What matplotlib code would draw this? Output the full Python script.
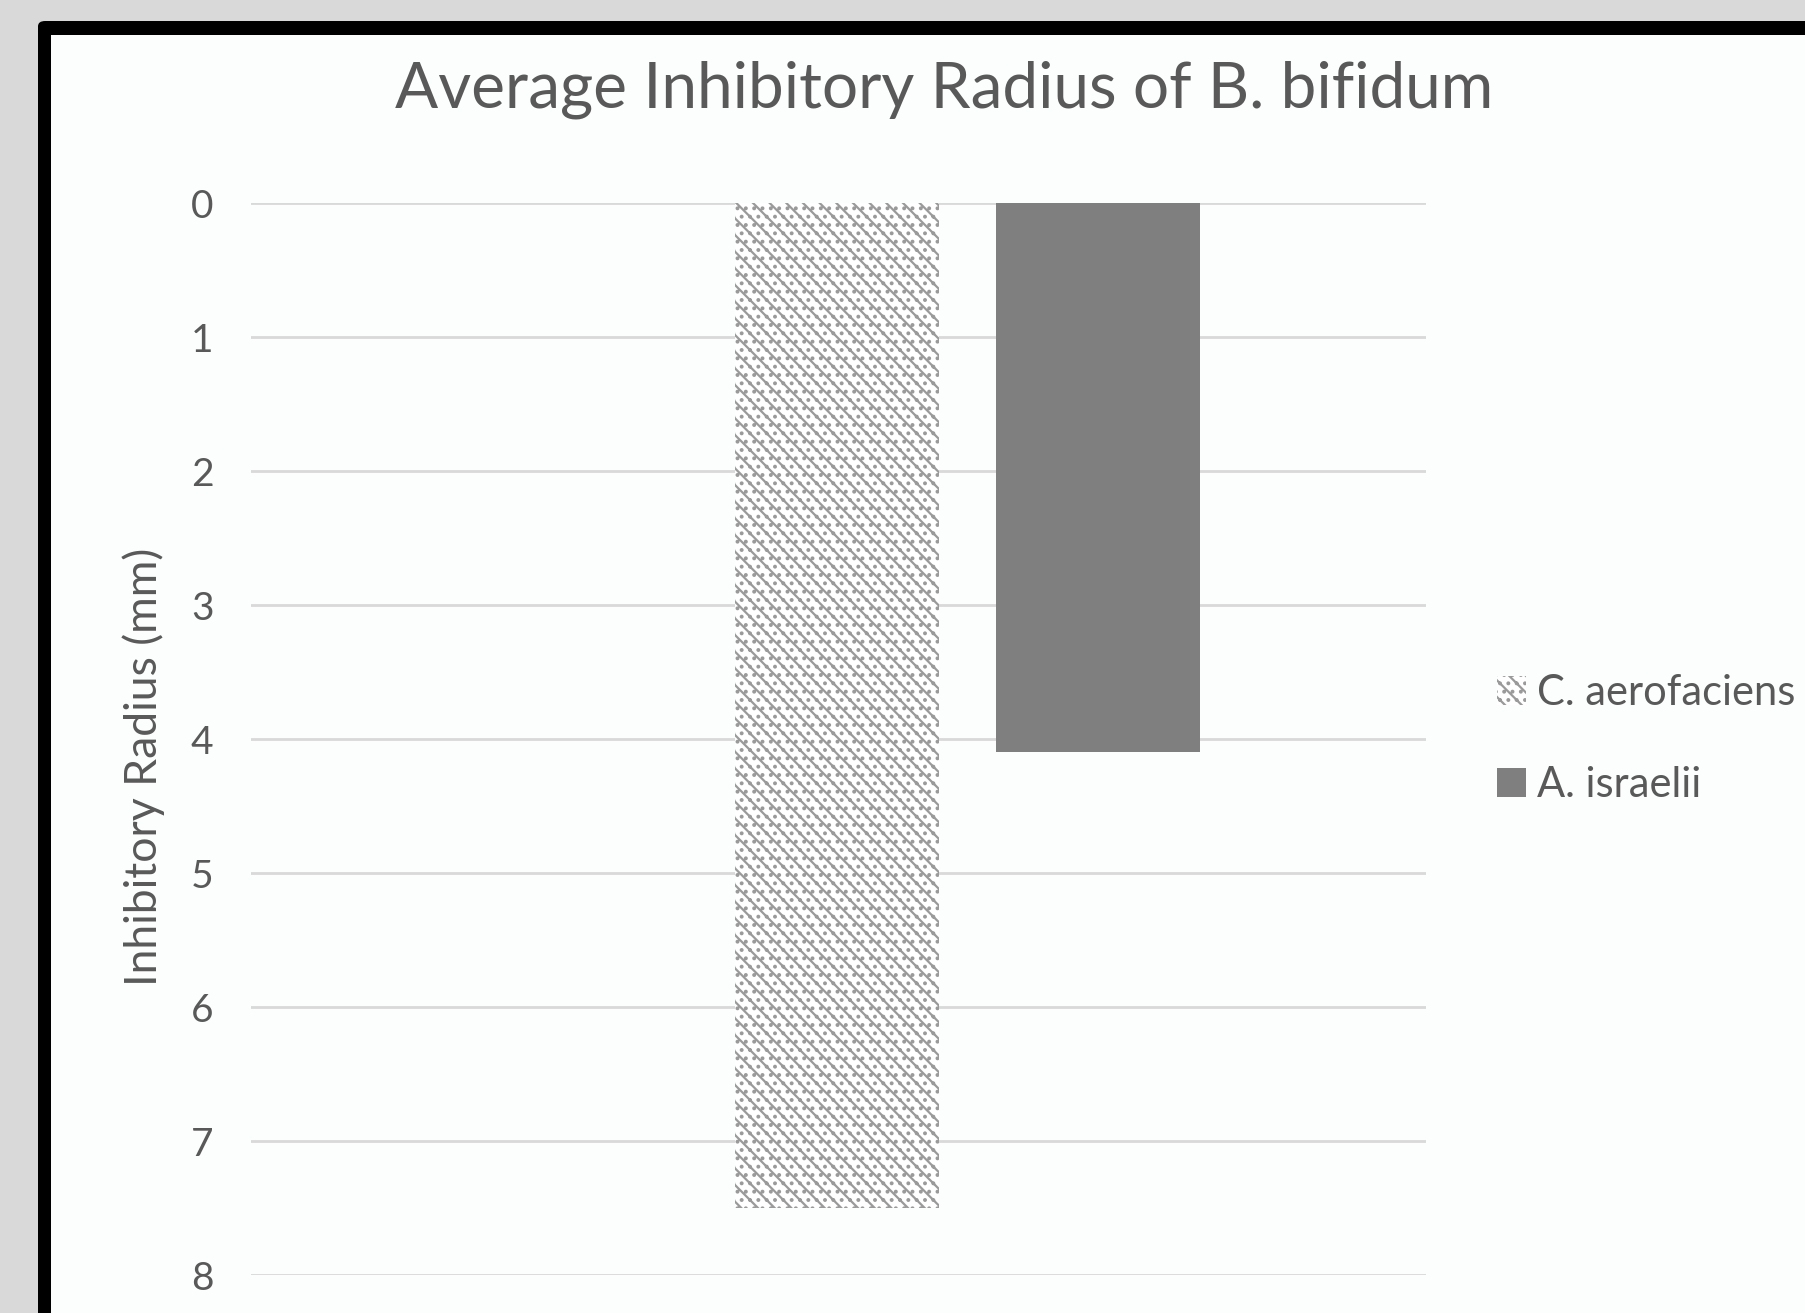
import matplotlib
matplotlib.use("Agg")
import matplotlib.pyplot as plt
from matplotlib.patches import Rectangle, FancyBboxPatch

# Data
series = ["C. aerofaciens", "A. israelii"]
radius_mm = [7.5, 4.1]
y_ticks = [0, 1, 2, 3, 4, 5, 6, 7, 8]

plt.rcParams["font.family"] = ["Lato", "DejaVu Sans"]
plt.rcParams["hatch.linewidth"] = 1.6

W, H = 1806, 1313
fig = plt.figure(figsize=(W / 100, H / 100), dpi=100, facecolor="#d9d9d9")

# Black frame with white panel inside
fig.patches.append(FancyBboxPatch((38 / W, -0.2), 1.3, 1 - 21 / H + 0.2,
                                  boxstyle="round,pad=0,rounding_size=0.004",
                                  transform=fig.transFigure, facecolor="black",
                                  edgecolor="none", zorder=-2))
fig.patches.append(Rectangle((51 / W, -0.2), 1.3, 1 - 35 / H + 0.2,
                             transform=fig.transFigure, facecolor="#fcfdfd",
                             edgecolor="none", zorder=-1))

ax = fig.add_axes([251 / W, 1 - 1275 / H, (1426 - 251) / W, (1275 - 203) / H])
ax.set_facecolor("none")
ax.set_zorder(2)

x = [1, 2]
width = 0.78
ax.bar(x[0], radius_mm[0], width=width, facecolor="white", edgecolor="#9a9a9a",
       hatch="\\\\..", linewidth=0, label=series[0], zorder=3)
ax.bar(x[1], radius_mm[1], width=width, color="#7f7f7f", label=series[1], zorder=3)

ax.set_xlim(-1.245, 3.258)
ax.set_ylim(8, 0)
ax.set_yticks(y_ticks)
ax.set_xticks([])
ax.yaxis.grid(True, color="#d9d9d9", linewidth=2)
ax.set_axisbelow(True)
for s in ax.spines.values():
    s.set_visible(False)
ax.tick_params(axis="y", length=0, pad=27, labelsize=28, labelcolor="#595959")

fig.text(144 / W, 1 - 767 / H, "Inhibitory Radius (mm)", rotation=90,
         ha="center", va="center", fontsize=32, color="#595959")
fig.text(944 / W, 1 - 90 / H, "Average Inhibitory Radius of B. bifidum",
         ha="center", va="center", fontsize=46, color="#595959")

leg = fig.legend(loc="upper left", bbox_to_anchor=(1497 / W, 1 - 674 / H),
                 frameon=False, fontsize=30, handlelength=0.7, handleheight=0.7,
                 handletextpad=0.25, labelspacing=1.3, labelcolor="#595959",
                 borderaxespad=0, borderpad=0)

fig.savefig("out.png", dpi=100, facecolor=fig.get_facecolor())
